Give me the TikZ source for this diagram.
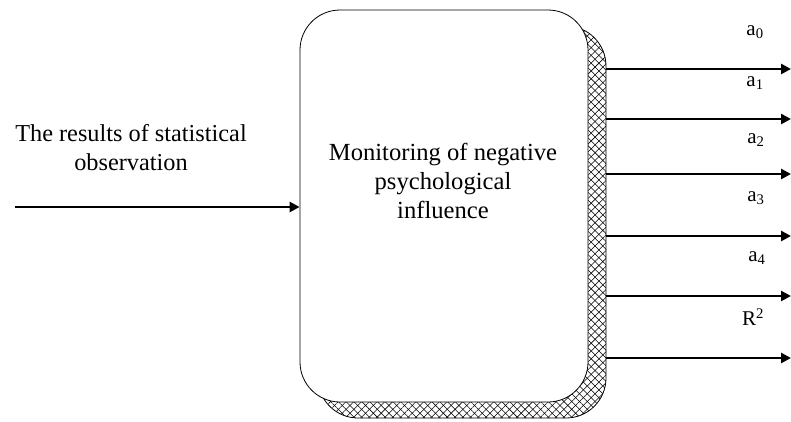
\documentclass[tikz,border=0pt]{standalone}
\usepackage{fontspec}
\setmainfont{Liberation Serif}
\usetikzlibrary{patterns.meta,arrows.meta}
\begin{document}
\begin{tikzpicture}[x=1pt,y=-1pt,
  outarrow/.style={line width=2.6pt,-{Triangle[length=10pt,width=10pt]}},
  lbl/.style={font=\fontsize{21}{24}\selectfont,inner sep=0pt},
  boxtext/.style={font=\fontsize{24.6}{29}\selectfont,align=center}]
\useasboundingbox (0,0) rectangle (791,421);
% shadow
\path[draw=black,line width=0.8pt,fill=white] (318,26) [rounded corners=40pt] rectangle (606,418);
\path[pattern={Lines[angle=45,distance=5.5pt,line width=0.55pt]}] (318,26) [rounded corners=40pt] rectangle (606,418);
\path[pattern={Lines[angle=-45,distance=5.5pt,line width=0.55pt]}] (318,26) [rounded corners=40pt] rectangle (606,418);
% main box
\node[draw=black,line width=0.8pt,fill=white,rounded corners=40pt,minimum width=288pt,minimum height=392pt,inner sep=0pt] (box) at (444,206) {};
\node[boxtext] (boxlabel) at (443,181) {Monitoring of negative\\psychological\\influence};
% input
\node[boxtext,font=\fontsize{24.3}{29}\selectfont] (inlabel) at (131,148) {The results of statistical\\observation};
\coordinate (in) at (15,207);
\draw[outarrow] (in) -- (in -| box.west);
% outputs
\foreach \y/\n in {69/0,119/1,174/2,236/3,296/4,358/5}{
  \coordinate (s\n) at (606,\y);
  \coordinate (e\n) at (791,\y);
  \draw[outarrow] (s\n) -- (e\n);
}
\node[lbl] (l0) at (755,32) {a\textsubscript{0}};
\node[lbl] (l1) at (755,83) {a\textsubscript{1}};
\node[lbl] (l2) at (756,140) {a\textsubscript{2}};
\node[lbl] (l3) at (756,198) {a\textsubscript{3}};
\node[lbl] (l4) at (757,258) {a\textsubscript{4}};
\node[lbl] (l5) at (753,317) {R\textsuperscript{2}};
\end{tikzpicture}
\end{document}
